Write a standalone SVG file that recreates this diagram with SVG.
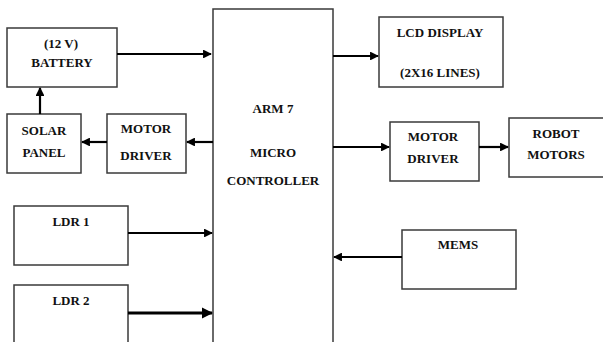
<svg xmlns="http://www.w3.org/2000/svg" width="603" height="342" viewBox="0 0 603 342">
<defs>
<style>
.box{fill:#fff;stroke:#3a3a3a;stroke-width:1.5}
.t{font-family:"Liberation Serif",serif;font-weight:bold;font-size:13px;fill:#111;text-anchor:middle}
.c{stroke:#000;stroke-width:2.2;fill:none;marker-end:url(#ah)}
</style>
<marker id="ah" viewBox="0 0 10 10" refX="9" refY="5" markerWidth="4" markerHeight="4" orient="auto" markerUnits="strokeWidth">
<path d="M0,0 L10,5 L0,10 z" fill="#000"/>
</marker>
</defs>
<rect width="603" height="342" fill="#fff"/>
<g id="mcu">
<rect class="box" x="213" y="9" width="120" height="340"/>
<text class="t" x="273" y="113">ARM 7</text>
<text class="t" x="273" y="157">MICRO</text>
<text class="t" x="273" y="185">CONTROLLER</text>
</g>
<g id="battery">
<rect class="box" x="7" y="28" width="110" height="59"/>
<text class="t" x="61" y="48">(12 V)</text>
<text class="t" x="62" y="67">BATTERY</text>
</g>
<g id="solar">
<rect class="box" x="7" y="114" width="74" height="59"/>
<text class="t" x="44" y="135">SOLAR</text>
<text class="t" x="44" y="157">PANEL</text>
</g>
<g id="motor-driver-left">
<rect class="box" x="107" y="114" width="79" height="59"/>
<text class="t" x="146" y="133">MOTOR</text>
<text class="t" x="146" y="160">DRIVER</text>
</g>
<g id="lcd">
<rect class="box" x="379" y="17" width="124" height="70"/>
<text class="t" x="440" y="37">LCD DISPLAY</text>
<text class="t" x="440" y="77">(2X16 LINES)</text>
</g>
<g id="motor-driver-right">
<rect class="box" x="390" y="122" width="89" height="59"/>
<text class="t" x="433" y="141">MOTOR</text>
<text class="t" x="433" y="163">DRIVER</text>
</g>
<g id="robot-motors">
<rect class="box" x="509" y="118" width="100" height="59"/>
<text class="t" x="556" y="138">ROBOT</text>
<text class="t" x="556" y="159">MOTORS</text>
</g>
<g id="ldr1">
<rect class="box" x="14" y="206" width="114" height="59"/>
<text class="t" x="71" y="226">LDR 1</text>
</g>
<g id="ldr2">
<rect class="box" x="14" y="285" width="114" height="70"/>
<text class="t" x="71" y="305">LDR 2</text>
</g>
<g id="mems">
<rect class="box" x="402" y="230" width="114" height="59"/>
<text class="t" x="458" y="249">MEMS</text>
</g>
<g id="connectors">
<line class="c" x1="117" y1="54" x2="211" y2="54"/>
<line class="c" x1="40" y1="114" x2="40" y2="88"/>
<line class="c" x1="213" y1="142" x2="187" y2="142"/>
<line class="c" x1="107" y1="142" x2="82" y2="142"/>
<line class="c" x1="333" y1="56" x2="378" y2="56"/>
<line class="c" x1="333" y1="147" x2="389" y2="147"/>
<line class="c" x1="479" y1="147" x2="508" y2="147"/>
<line class="c" x1="128" y1="233" x2="212" y2="233"/>
<line class="c" x1="128" y1="313" x2="212" y2="313" style="stroke-width:2.8"/>
<line class="c" x1="402" y1="257" x2="334" y2="257"/>
</g>
</svg>
